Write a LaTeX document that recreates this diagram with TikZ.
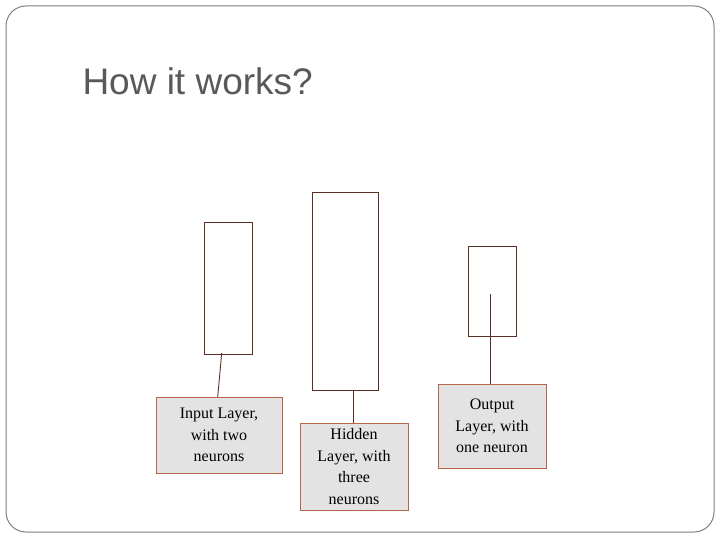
\documentclass[tikz,border=0pt]{standalone}
\usepackage{fontspec}
\setmainfont{Liberation Serif}
\newfontfamily\titlefont{Liberation Sans}
\definecolor{frame}{HTML}{808080}
\definecolor{rectc}{HTML}{5A3024}
\definecolor{labc}{HTML}{B8654A}
\definecolor{labfill}{HTML}{E3E3E3}
\definecolor{titlec}{HTML}{595959}
\begin{document}
\begin{tikzpicture}[x=1pt,y=-1pt,
  layer/.style={draw=rectc,line width=0.9pt,fill=white,inner sep=0pt},
  lab/.style={draw=labc,line width=0.9pt,fill=labfill,inner sep=0pt,align=center,font=\fontsize{16}{21.5}\selectfont},
  conn/.style={draw=rectc,line width=0.9pt}]
\useasboundingbox (0,0) rectangle (720,540);
\fill[white] (0,0) rectangle (720,540);
\draw[frame,line width=1pt,rounded corners=20pt] (6,6) rectangle (714,532);
\node[anchor=base west,text=titlec,font=\titlefont\fontsize{37}{40}\selectfont] (title) at (79,95) {How it works?};
% layers
\node[layer,minimum width=48,minimum height=132] (inl) at (228,288) {};
\node[layer,minimum width=66,minimum height=198] (hid) at (345,291) {};
\node[layer,minimum width=48,minimum height=90] (outl) at (492,291) {};
% labels
\node[lab,minimum width=126,minimum height=76] (inlab) at (219,435) {Input Layer,\\with two\\neurons};
\node[lab,minimum width=108,minimum height=87] (hidlab) at (354,466.5) {Hidden\\Layer, with\\three\\neurons};
\node[lab,minimum width=108,minimum height=84] (outlab) at (492,426) {Output\\Layer, with\\one neuron};
% connectors
\coordinate (inp) at (221.7,353);
\coordinate (inq) at (217.7,397);
\coordinate (hp) at (353,390);
\coordinate (hq) at (353,423);
\coordinate (op) at (490,294);
\coordinate (oq) at (490,384);
\draw[conn] (inp) -- (inq);
\draw[conn] (hp) -- (hq);
\draw[conn] (op) -- (oq);
\end{tikzpicture}
\end{document}
